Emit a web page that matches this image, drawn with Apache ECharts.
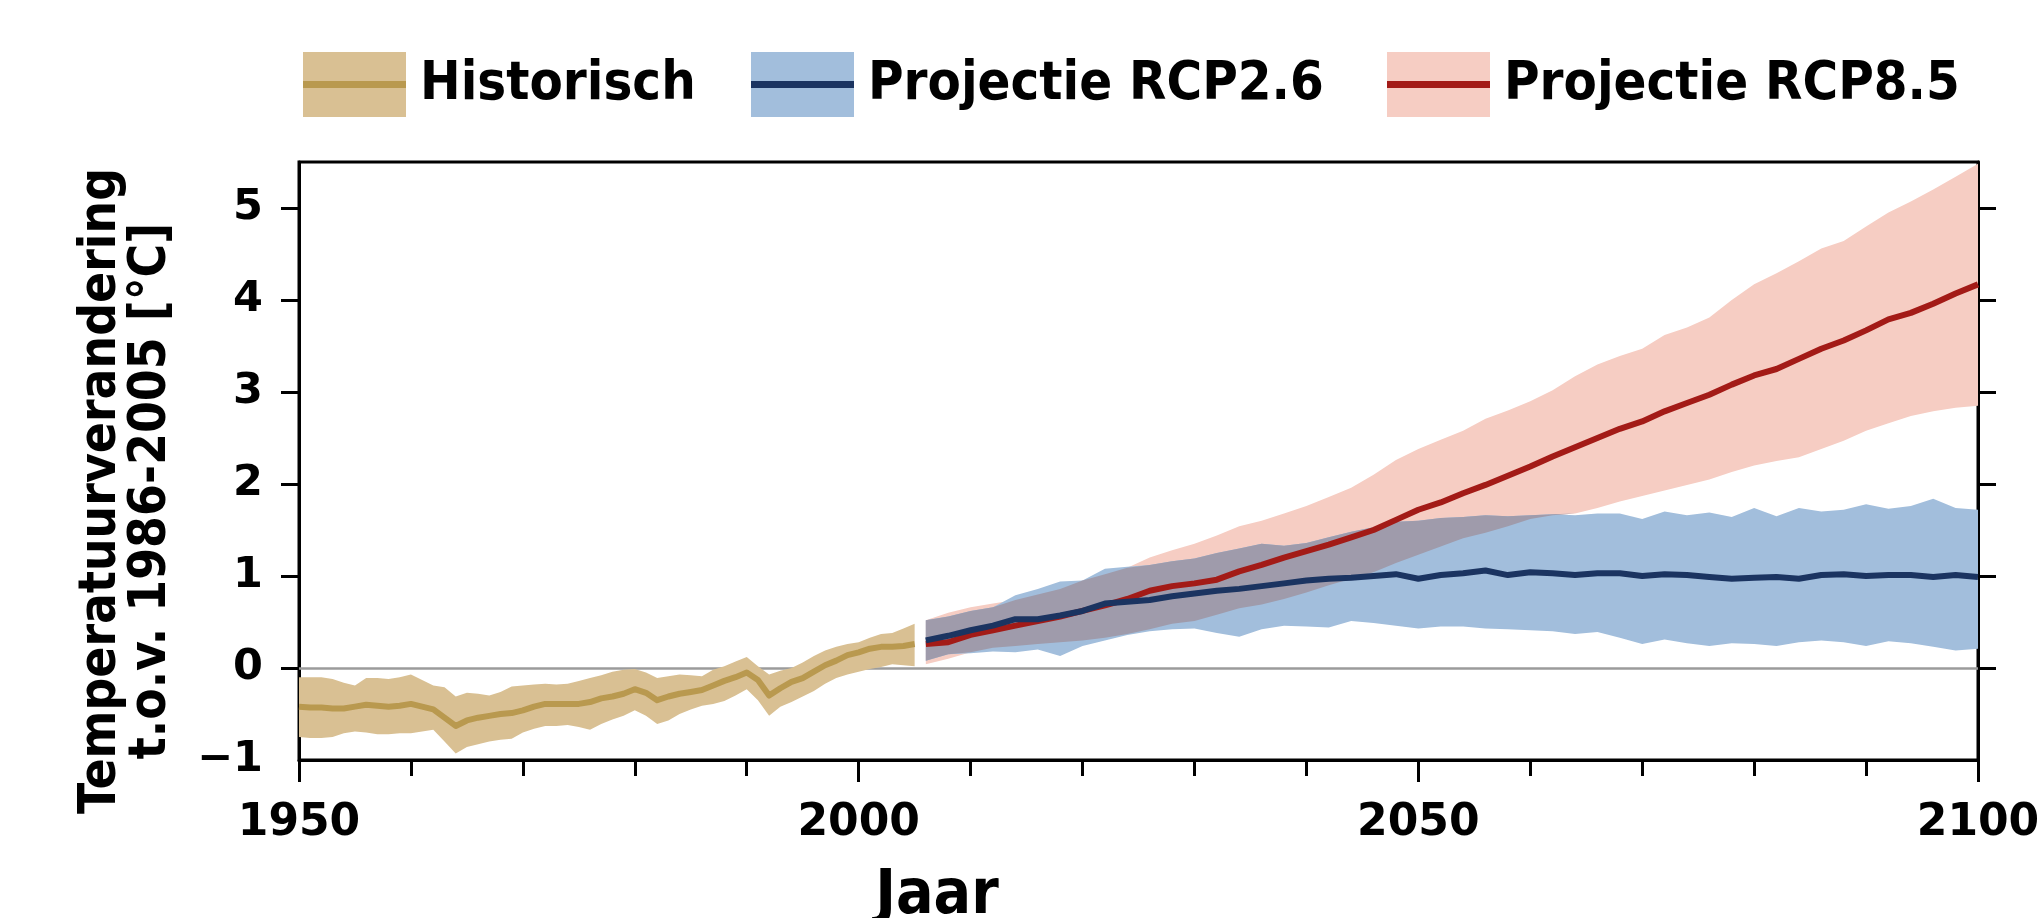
<!DOCTYPE html>
<html><head><meta charset="utf-8">
<script src="https://cdn.jsdelivr.net/npm/echarts@6/dist/echarts.min.js"></script>
<style>html,body{margin:0;padding:0;background:#fff}#c{width:2042px;height:918px}</style>
</head><body><div id="c"></div>
<script>
// ---------- data ----------
const histYears = [1950,1951,1952,1953,1954,1955,1956,1957,1958,1959,1960,1961,1962,1963,1964,1965,1966,1967,1968,1969,1970,1971,1972,1973,1974,1975,1976,1977,1978,1979,1980,1981,1982,1983,1984,1985,1986,1987,1988,1989,1990,1991,1992,1993,1994,1995,1996,1997,1998,1999,2000,2001,2002,2003,2004,2005];
const histMean = [-0.42,-0.43,-0.43,-0.44,-0.44,-0.42,-0.40,-0.41,-0.42,-0.41,-0.39,-0.42,-0.45,-0.54,-0.63,-0.57,-0.54,-0.52,-0.50,-0.49,-0.46,-0.42,-0.39,-0.39,-0.39,-0.39,-0.37,-0.33,-0.31,-0.28,-0.23,-0.27,-0.35,-0.31,-0.28,-0.26,-0.24,-0.19,-0.14,-0.10,-0.05,-0.13,-0.30,-0.22,-0.15,-0.11,-0.04,0.03,0.08,0.14,0.17,0.21,0.23,0.23,0.24,0.26];
const histLower = [-0.75,-0.76,-0.76,-0.75,-0.71,-0.69,-0.70,-0.72,-0.72,-0.71,-0.71,-0.69,-0.67,-0.80,-0.93,-0.86,-0.83,-0.80,-0.78,-0.77,-0.70,-0.66,-0.63,-0.63,-0.62,-0.64,-0.67,-0.61,-0.56,-0.52,-0.46,-0.52,-0.61,-0.57,-0.50,-0.45,-0.41,-0.39,-0.36,-0.30,-0.23,-0.35,-0.52,-0.42,-0.37,-0.31,-0.25,-0.17,-0.11,-0.07,-0.04,-0.01,0.01,0.04,0.03,0.02];
const histUpper = [-0.10,-0.10,-0.10,-0.12,-0.16,-0.19,-0.11,-0.11,-0.12,-0.10,-0.07,-0.13,-0.19,-0.21,-0.31,-0.27,-0.28,-0.30,-0.26,-0.20,-0.19,-0.18,-0.17,-0.18,-0.17,-0.14,-0.11,-0.08,-0.04,-0.02,-0.01,-0.05,-0.11,-0.09,-0.07,-0.08,-0.09,-0.02,0.02,0.07,0.12,0.02,-0.07,-0.03,0.00,0.06,0.13,0.19,0.23,0.26,0.28,0.33,0.37,0.38,0.43,0.48];

const projYears = [2006,2008,2010,2012,2014,2016,2018,2020,2022,2024,2026,2028,2030,2032,2034,2036,2038,2040,2042,2044,2046,2048,2050,2052,2054,2056,2058,2060,2062,2064,2066,2068,2070,2072,2074,2076,2078,2080,2082,2084,2086,2088,2090,2092,2094,2096,2098,2100];
const rcp26Mean = [0.30,0.35,0.41,0.46,0.53,0.53,0.57,0.62,0.70,0.72,0.74,0.78,0.81,0.84,0.86,0.89,0.92,0.95,0.97,0.98,1.00,1.02,0.97,1.01,1.03,1.06,1.01,1.04,1.03,1.01,1.03,1.03,1.00,1.02,1.01,0.99,0.97,0.98,0.99,0.97,1.01,1.02,1.00,1.01,1.01,0.99,1.01,0.99];
const rcp26Upper = [0.52,0.56,0.62,0.66,0.79,0.86,0.94,0.95,1.08,1.10,1.12,1.16,1.19,1.25,1.30,1.35,1.33,1.36,1.42,1.48,1.53,1.59,1.60,1.63,1.64,1.66,1.65,1.66,1.67,1.66,1.68,1.68,1.62,1.70,1.66,1.69,1.64,1.74,1.65,1.74,1.70,1.72,1.78,1.73,1.76,1.84,1.74,1.72];
const rcp26Lower = [0.08,0.15,0.16,0.18,0.17,0.20,0.13,0.24,0.30,0.36,0.40,0.42,0.43,0.38,0.34,0.42,0.46,0.45,0.44,0.51,0.49,0.46,0.43,0.45,0.45,0.43,0.42,0.41,0.40,0.37,0.39,0.33,0.26,0.31,0.27,0.24,0.27,0.26,0.24,0.28,0.30,0.28,0.24,0.29,0.27,0.23,0.19,0.21];
const rcp85Mean = [0.26,0.28,0.36,0.41,0.46,0.51,0.56,0.62,0.68,0.75,0.84,0.89,0.92,0.96,1.05,1.12,1.20,1.27,1.34,1.42,1.50,1.61,1.72,1.80,1.90,1.99,2.09,2.19,2.30,2.40,2.50,2.60,2.68,2.79,2.88,2.97,3.08,3.18,3.25,3.36,3.47,3.56,3.67,3.79,3.86,3.96,4.07,4.17];
const rcp85Upper = [0.52,0.60,0.66,0.70,0.74,0.80,0.86,0.95,1.02,1.09,1.20,1.28,1.35,1.44,1.54,1.60,1.68,1.76,1.86,1.96,2.10,2.26,2.38,2.48,2.58,2.71,2.80,2.90,3.02,3.17,3.30,3.39,3.47,3.62,3.70,3.81,4.00,4.17,4.29,4.42,4.56,4.64,4.80,4.95,5.07,5.20,5.34,5.48];
const rcp85Lower = [0.04,0.10,0.17,0.22,0.24,0.26,0.28,0.30,0.33,0.37,0.42,0.48,0.51,0.58,0.65,0.69,0.75,0.82,0.90,0.97,1.04,1.14,1.23,1.32,1.41,1.47,1.54,1.62,1.66,1.68,1.74,1.81,1.87,1.93,1.99,2.05,2.13,2.20,2.25,2.29,2.38,2.47,2.58,2.66,2.74,2.79,2.83,2.85];

const yTickValues = [0,1,2,3,4,5];
const yLabelValues = [-1,0,1,2,3,4,5];
const legendNames = ['Historisch','Projectie RCP2.6','Projectie RCP8.5'];

// ---------- styling ----------
const COND = '"DejaVu Sans Condensed", "Liberation Sans Narrow", "DejaVu Sans", sans-serif';
const NORM = '"DejaVu Sans", sans-serif';
const C = {
  histBand:'#d9c093', histLine:'#b9994f',
  b26Band:'#a2bedc', b26Line:'#1b3461',
  b85Band:'#f6cdc3', b85Line:'#a31b17',
  overlap:'#9f9bab'
};

// overlap of the two projection ranges (derived from the data above)
const ovLower = rcp26Lower.map((v,i)=>Math.max(v, rcp85Lower[i]));
const ovUpper = rcp26Upper.map((v,i)=>Math.max(ovLower[i], Math.min(v, rcp85Upper[i])));

function bandSeries(name, xs, lo, hi, color){
  return {
    type:'custom', name:name, coordinateSystem:'cartesian2d', silent:true, clip:true, color:color,
    data: xs.map((x,i)=>[x, lo[i], hi[i]]),
    encode:{x:0, y:[1,2]},
    renderItem:function(params, api){
      if (params.dataIndex !== 0) return null;
      const pts = [];
      for (let i=0;i<xs.length;i++) pts.push(api.coord([xs[i], hi[i]]));
      for (let i=xs.length-1;i>=0;i--) pts.push(api.coord([xs[i], lo[i]]));
      return {type:'polygon', shape:{points:pts}, style:{fill:color, stroke:null}};
    }
  };
}
function meanLine(name, xs, ys, color, extra){
  return Object.assign({type:'line', name:name, data:xs.map((x,i)=>[x, ys[i]]), symbol:'none', silent:true, color:color,
    lineStyle:{color:color, width:6, join:'round', cap:'butt'}}, extra||{});
}

const series = [
  bandSeries('Historisch', histYears, histLower, histUpper, C.histBand),
  bandSeries('Projectie RCP8.5', projYears, rcp85Lower, rcp85Upper, C.b85Band),
  bandSeries('Projectie RCP2.6', projYears, rcp26Lower, rcp26Upper, C.b26Band),
  bandSeries('overlap', projYears, ovLower, ovUpper, C.overlap),
  meanLine('L:Historisch', histYears, histMean, C.histLine, {
    markLine:{silent:true, symbol:'none', label:{show:false}, animation:false, z:1,
      lineStyle:{color:'#9b9b9b', width:2.5, type:'solid'}, data:[{yAxis:0}]}
  }),
  meanLine('L:Projectie RCP8.5', projYears, rcp85Mean, C.b85Line),
  meanLine('L:Projectie RCP2.6', projYears, rcp26Mean, C.b26Line)
];

const legendLefts = [303, 751, 1387];
const bandColors = [C.histBand, C.b26Band, C.b85Band];
const lineColors = [C.histLine, C.b26Line, C.b85Line];
const legends = [];
legendNames.forEach((n,i)=>{
  const common = {left:legendLefts[i], top:52, itemWidth:103, itemHeight:65, padding:0,
    selectedMode:false, orient:'horizontal'};
  legends.push(Object.assign({}, common, {data:[n], icon:'rect',
    itemStyle:{color:bandColors[i], opacity:1, borderWidth:0},
    textStyle:{fontSize:54, fontWeight:'bold', fontFamily:COND, color:'#000', padding:[0,0,0,9]}}));
  legends.push(Object.assign({}, common, {data:['L:'+n], z:5,
    icon:'path://M0,0L0,0M0,29L103,29L103,36L0,36ZM103,65L103,65',
    formatter:(s)=>s.replace('L:',''),
    itemStyle:{color:lineColors[i], opacity:1, borderWidth:0},
    textStyle:{fontSize:54, fontWeight:'bold', fontFamily:COND, color:'rgba(0,0,0,0)', padding:[0,0,0,9]}}));
});

const axisLineStyle = {color:'#000', width:3};
const option = {
  animation:false,
  backgroundColor:'#fff',
  legend: legends,
  grid:{left:299, right:64, top:162, bottom:158, show:true, borderColor:'#000', borderWidth:3,
    containLabel:false, outerBoundsMode:'none'},
  xAxis:{type:'value', min:1950, max:2100, interval:50,
    axisLine:{show:true, onZero:false, lineStyle:axisLineStyle},
    axisTick:{show:true, inside:false, length:22, lineStyle:axisLineStyle},
    minorTick:{show:true, splitNumber:5, length:16, lineStyle:axisLineStyle},
    splitLine:{show:false}, minorSplitLine:{show:false},
    axisLabel:{fontSize:44, fontWeight:'bold', fontFamily:NORM, color:'#000', margin:42,
      formatter:(v)=>String(v)},
    name:'Jaar', nameLocation:'middle', nameGap:106,
    nameTextStyle:{fontSize:62, fontWeight:'bold', fontFamily:COND, color:'#000', padding:[0,403,0,0]}
  },
  yAxis:[
    {type:'value', min:-1, max:5.5, position:'left',
     axisLine:{show:true, onZero:false, lineStyle:axisLineStyle},
     axisTick:{show:true, inside:false, length:18, customValues:yTickValues, lineStyle:axisLineStyle},
     axisLabel:{customValues:yLabelValues, fontSize:43, fontWeight:'bold', fontFamily:NORM, color:'#000', margin:36,
       formatter:(v)=> v < 0 ? '\u2212' + Math.abs(v) : String(v)},
     splitLine:{show:false},
     name:'Temperatuurverandering\nt.o.v. 1986-2005 [°C]', nameLocation:'middle', nameRotate:90, nameGap:122,
     nameTextStyle:{fontSize:51, lineHeight:50, fontWeight:'bold', fontFamily:COND, color:'#000', align:'center', padding:[0,60,0,0]}
    },
    {type:'value', min:-1, max:5.5, position:'right',
     axisLine:{show:true, onZero:false, lineStyle:axisLineStyle},
     axisTick:{show:true, inside:false, length:18, customValues:yTickValues, lineStyle:axisLineStyle},
     axisLabel:{show:false}, splitLine:{show:false}}
  ],
  series: series
};
const chart = echarts.init(document.getElementById('c'), null, {renderer:'canvas'});
chart.setOption(option);
</script>
</body></html>
